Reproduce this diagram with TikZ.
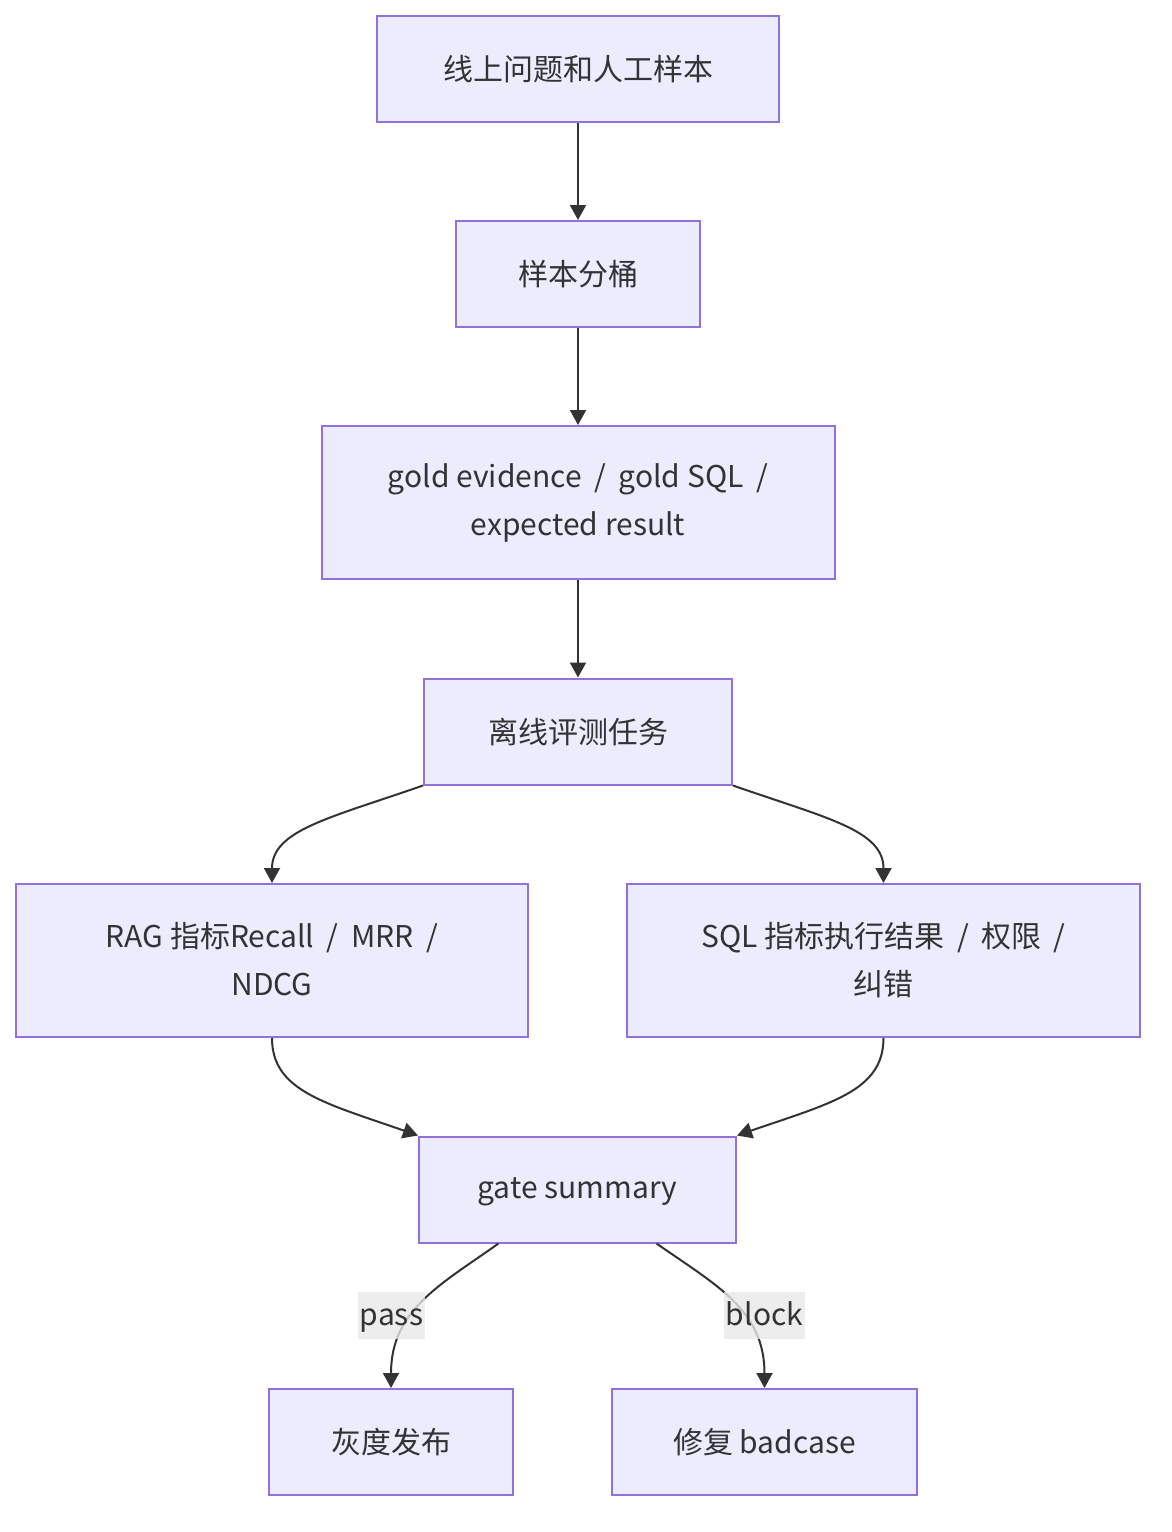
\documentclass[tikz,border=0pt]{standalone}
\usepackage{fontspec}
\setmainfont{Noto Sans CJK SC}
\usetikzlibrary{arrows.meta}
\definecolor{nodefill}{HTML}{ECECFF}
\definecolor{nodeborder}{HTML}{9370DB}
\definecolor{edgecol}{HTML}{333333}
\definecolor{lblbg}{HTML}{E8E8E8}
\newcommand{\slsep}{\hspace{0.42em}/\hspace{0.42em}}
\newcommand{\cjkstrut}{\vphantom{样}}
\begin{document}
\begin{tikzpicture}[x=0.5pt,y=-0.5pt,
  box/.style={draw=nodeborder, fill=nodefill, line width=1pt, text=edgecol,
    font=\fontsize{15}{24}\selectfont, align=center, inner sep=0pt},
  flow/.style={draw=edgecol, line width=1pt, -{Triangle[length=7.5pt,width=8pt]}},
  lbl/.style={fill=lblbg, fill opacity=0.8, text opacity=1, text=edgecol,
    font=\fontsize{15}{18}\selectfont, inner xsep=1pt, inner ysep=3.75pt,
    text height=13pt, text depth=3pt}]
\useasboundingbox (0,0) rectangle (1172,1532);
\node[box, minimum width=201pt, minimum height=53pt] (n1) at (578,69) {线上问题和人工样本};
\node[box, minimum width=122pt, minimum height=53pt] (n2) at (578,274) {样本分桶};
\node[box, minimum width=256.5pt, minimum height=76.5pt] (n3) at (578,502.5) {\cjkstrut gold evidence\slsep gold SQL\slsep\\\cjkstrut expected result};
\node[box, minimum width=154pt, minimum height=53pt] (n4) at (578,731.5) {离线评测任务};
\node[box, minimum width=256pt, minimum height=76.5pt] (n5) at (272,960.5) {RAG 指标Recall\slsep MRR\slsep\\\cjkstrut NDCG};
\node[box, minimum width=256.5pt, minimum height=76.5pt] (n6) at (883.5,960.5) {SQL 指标执行结果\slsep 权限\slsep\\纠错};
\node[box, minimum width=158.5pt, minimum height=53pt] (n7) at (577.5,1189.5) {\cjkstrut gate summary};
\node[box, minimum width=122pt, minimum height=53pt] (n8) at (391,1442) {灰度发布};
\node[box, minimum width=152.5pt, minimum height=53pt] (n9) at (764.5,1442) {修复 badcase};
\draw[flow] (n1.south) -- (n2.north);
\draw[flow] (n2.south) -- (n3.north);
\draw[flow] (n3.south) -- (n4.north);
\draw[flow] (n4.south west) .. controls (330,818) and (272,830) .. (n5.north);
\draw[flow] (n4.south east) .. controls (826,818) and (883.5,830) .. (n6.north);
\draw[flow] (n5.south) .. controls (272,1091) and (325,1103) .. (n7.north west);
\draw[flow] (n6.south) .. controls (883.5,1091) and (831,1103) .. (n7.north east);
\draw[flow] ([xshift=-39.5pt]n7.south) .. controls (440,1285) and (391,1310) .. (n8.north);
\draw[flow] ([xshift=39.5pt]n7.south) .. controls (716,1285) and (764.5,1310) .. (n9.north);
\node[lbl] (lp) at (391.5,1315.5) {pass};
\node[lbl] (lb) at (764.5,1315.5) {block};
\end{tikzpicture}
\end{document}
